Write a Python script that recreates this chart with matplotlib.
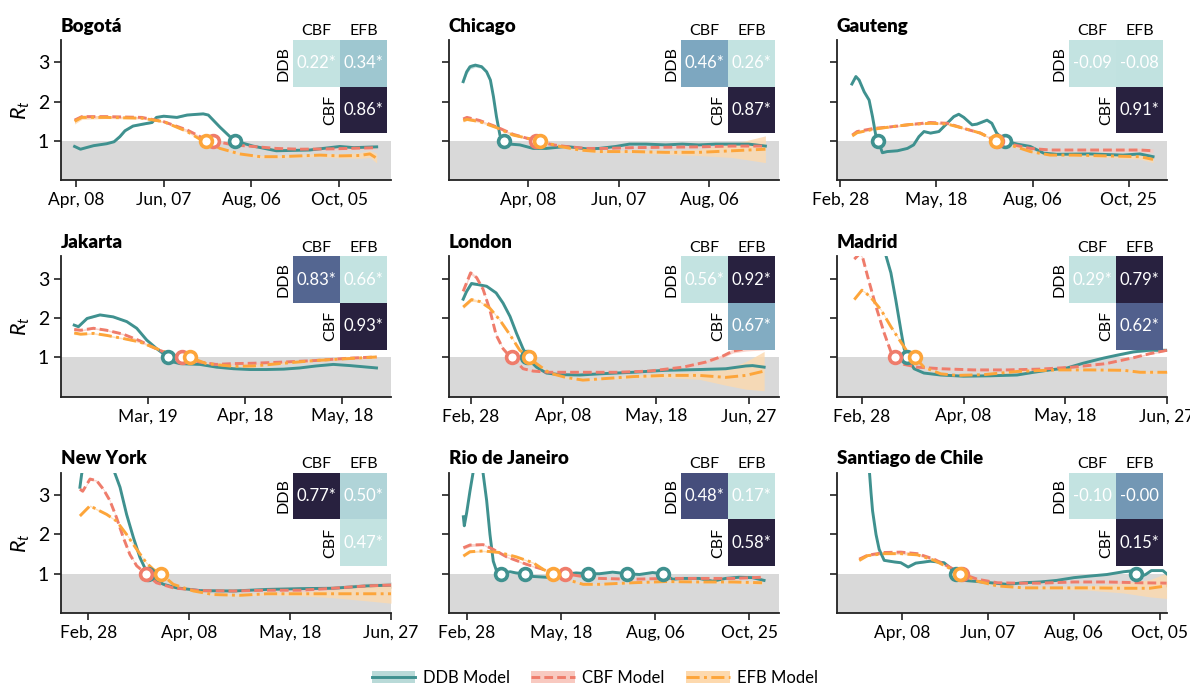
import numpy as np
import matplotlib
matplotlib.use("Agg")
import matplotlib.pyplot as plt
import matplotlib.dates as mdates
from matplotlib.colors import LinearSegmentedColormap, Normalize
from matplotlib.patches import Patch
from matplotlib.lines import Line2D

plt.rcParams['font.family'] = ['Lato', 'DejaVu Sans']
plt.rcParams['mathtext.fontset'] = 'custom'
plt.rcParams['mathtext.it'] = 'Lato:italic'
plt.rcParams['mathtext.rm'] = 'Lato'

# points are (day since the city's reference date, Rt, half width of band)
# band half width defaults to 0.02 when left out

# --- Bogota (ref Apr 08) ---
bogota_ddb = [(-1, 0.86), (3, 0.79), (12, 0.88), (21, 0.93), (26, 0.98), (30, 1.11), (33.5, 1.26),
              (39, 1.38), (46, 1.43), (52, 1.47), (55, 1.6), (60, 1.63), (69, 1.6), (76, 1.66),
              (87, 1.69), (90.5, 1.66), (98.5, 1.35), (105, 1.12), (108.8, 1.0), (121, 0.87),
              (137, 0.75), (160, 0.77), (180.5, 0.86), (190, 0.83), (205.7, 0.85, 0.03)]
bogota_cbf = [(-1, 1.53, 0.05), (4, 1.62, 0.04), (20, 1.62), (45, 1.6), (60, 1.49), (76, 1.28),
              (87, 1.07), (94, 1.0), (107.6, 0.9), (121, 0.86), (137, 0.81), (153, 0.79),
              (176, 0.8, 0.03), (205.7, 0.83, 0.04)]
bogota_efb = [(-1, 1.5, 0.07), (4, 1.6, 0.05), (20, 1.6, 0.03), (45, 1.58), (60, 1.49), (76, 1.24),
              (85, 1.04), (89, 1.0), (98.5, 0.81), (112, 0.67, 0.03), (126, 0.6, 0.03),
              (139.5, 0.6, 0.03), (153, 0.62, 0.03), (167, 0.64, 0.04), (180.5, 0.62, 0.05),
              (194, 0.63, 0.07), (201, 0.67, 0.09), (205.7, 0.56, 0.12)]
bogota_marks = [[108.8], [94], [89]]
bogota_corr = [0.22, 0.34, 0.86]
bogota_sig = [True, True, True]

# --- Chicago (ref Apr 08) ---
chicago_ddb = [(-43, 2.51, 0.04), (-40.7, 2.76, 0.06), (-38.5, 2.89, 0.06), (-35, 2.93, 0.05),
               (-30.8, 2.89, 0.04), (-27.5, 2.76, 0.03), (-25, 2.55, 0.03), (-23, 2.13), (-21, 1.62),
               (-18.7, 1.15), (-16.5, 1.0), (-12, 0.92), (-5.5, 0.9), (3.3, 0.81), (12, 0.81),
               (25, 0.86), (38.5, 0.8), (47, 0.81), (58, 0.86), (67, 0.92), (78, 0.92), (91, 0.9),
               (102, 0.92), (113, 0.9), (124, 0.92), (135, 0.92), (146, 0.92, 0.03), (157, 0.87, 0.03)]
chicago_cbf = [(-43, 1.56, 0.03), (-40.5, 1.6, 0.03), (-32, 1.52), (-21, 1.36), (-10, 1.17),
               (5.5, 1.0), (16.5, 0.9), (25, 0.86), (38.5, 0.81), (52, 0.81), (69, 0.83), (91, 0.84),
               (113, 0.85, 0.03), (135, 0.87, 0.03), (157, 0.87, 0.04)]
chicago_efb = [(-43, 1.52, 0.04), (-40.5, 1.55, 0.03), (-32, 1.49), (-21, 1.34), (-10, 1.15),
               (7.7, 1.0), (21, 0.86), (34, 0.77, 0.03), (47, 0.73, 0.03), (69, 0.73, 0.03),
               (91, 0.71, 0.05), (113, 0.71, 0.08), (135, 0.75, 0.17), (157, 0.79, 0.34)]
chicago_marks = [[-16], [5.5], [8]]
chicago_corr = [0.46, 0.26, 0.87]
chicago_sig = [True, True, True]

# --- Gauteng (ref Feb 28) ---
gauteng_ddb = [(9.7, 2.45), (13, 2.64), (15.7, 2.55), (19.9, 2.25), (24, 2.04), (26.8, 1.62),
               (29.5, 1.15), (31.7, 1.0), (35, 0.7), (39, 0.73), (47.5, 0.75), (55.8, 0.81),
               (61, 0.9), (65.4, 1.11), (69.6, 1.24), (75, 1.2), (82, 1.24), (87.5, 1.41),
               (94.4, 1.62), (98.5, 1.68), (102.7, 1.6), (109.6, 1.41), (113.7, 1.43), (122, 1.53),
               (126, 1.45), (130, 1.2), (137, 1.0), (147, 0.92), (158, 0.86), (169, 0.69),
               (180, 0.66), (207.6, 0.67), (235, 0.64), (249, 0.67), (260, 0.6)]
gauteng_cbf = [(10, 1.15, 0.03), (14, 1.24), (28, 1.32), (42, 1.36), (58.5, 1.42), (75, 1.47),
               (89, 1.45), (102.7, 1.32), (116.5, 1.2), (124.8, 1.07), (130.3, 1.0), (141, 0.92),
               (158, 0.81), (174.5, 0.77), (194, 0.77), (221, 0.77, 0.03), (249, 0.77, 0.04),
               (260, 0.75, 0.05)]
gauteng_efb = [(10, 1.13, 0.03), (14, 1.21), (28, 1.3), (42, 1.36), (58.5, 1.42), (75, 1.45),
               (89, 1.43), (102.7, 1.32), (116.5, 1.2), (124.8, 1.07), (129.5, 1.0), (141, 0.9),
               (158, 0.73), (174.5, 0.64), (194, 0.64, 0.03), (221, 0.62, 0.04), (249, 0.6, 0.06),
               (260, 0.53, 0.08)]
gauteng_marks = [[31.7, 137], [130.3], [129.5]]
gauteng_corr = [-0.09, -0.08, 0.91]
gauteng_sig = [False, False, True]

# --- Jakarta (ref Mar 19) ---
jakarta_ddb = [(-23, 1.82), (-21.7, 1.78), (-19, 1.99), (-15, 2.08), (-10.9, 2.03), (-6.7, 1.91),
               (-3.6, 1.74), (-0.5, 1.44), (2.6, 1.22), (4.7, 1.09), (6.2, 1.0), (7.8, 0.88),
               (9.8, 0.84), (16, 0.82), (21.2, 0.75), (26.4, 0.71), (31.5, 0.69), (36.7, 0.69),
               (42, 0.7), (47, 0.73), (52, 0.78), (57.4, 0.82), (62.6, 0.79), (70.8, 0.73)]
jakarta_cbf = [(-23, 1.71, 0.04), (-21, 1.69), (-17, 1.74), (-13, 1.69), (-7.8, 1.59), (-2.6, 1.42),
               (2.6, 1.21), (6, 1.1), (10.6, 1.0), (16, 0.88), (21, 0.82), (26, 0.84), (32.6, 0.85),
               (42, 0.88), (52, 0.92), (62.6, 0.98), (70.8, 1.01, 0.03)]
jakarta_efb = [(-23, 1.62, 0.04), (-21, 1.59), (-17, 1.61), (-13, 1.56), (-7.8, 1.48), (-2.6, 1.39),
               (2.6, 1.22), (7.8, 1.05), (12.9, 1.0), (18, 0.84), (26.4, 0.77), (32.6, 0.78),
               (42, 0.85), (52, 0.92), (62.6, 0.97), (70.8, 1.01, 0.03)]
jakarta_marks = [[6.2], [10.6], [12.9]]
jakarta_corr = [0.83, 0.66, 0.93]
jakarta_sig = [True, True, True]

# --- London (ref Feb 28) ---
london_ddb = [(-3.2, 2.48, 0.04), (-1.7, 2.68, 0.04), (0.4, 2.88, 0.04), (3.3, 2.85), (6.9, 2.81),
              (11, 2.64), (14, 2.38), (17, 2.04), (19.8, 1.61), (22.6, 1.22), (25.5, 0.92),
              (28.4, 0.75), (32.7, 0.6), (38.4, 0.56), (47, 0.55), (55.6, 0.58), (70, 0.62),
              (84, 0.67), (98.6, 0.69), (110, 0.71, 0.03), (118.6, 0.78, 0.04), (121.5, 0.79, 0.04),
              (126.5, 0.75, 0.05)]
london_cbf = [(-3.2, 2.68, 0.05), (0, 3.15, 0.05), (2.6, 3.03), (5.4, 2.73), (8.3, 2.21), (11, 1.57),
              (14, 1.22), (16.2, 1.07), (18, 1.0), (22.6, 0.71), (27, 0.65), (34, 0.62),
              (48.4, 0.62), (62.8, 0.62), (77, 0.65), (91.5, 0.75), (101.4, 0.88, 0.03),
              (108.6, 1.03, 0.04), (113, 1.16, 0.05), (118.6, 1.22, 0.06), (126.5, 1.27, 0.08)]
london_efb = [(-3.2, 2.28, 0.04), (0.4, 2.47, 0.04), (4, 2.42), (8.3, 2.25), (12.6, 1.95),
              (17, 1.57), (21.2, 1.18), (25.2, 1.0), (28.4, 0.84), (34, 0.6), (41, 0.49),
              (48.4, 0.42), (55.6, 0.45), (70, 0.51, 0.03), (84, 0.54, 0.05), (98.6, 0.54, 0.1),
              (110, 0.49, 0.2), (118.6, 0.54, 0.35), (126.5, 0.65, 0.5)]
london_marks = [[24.5], [18], [25.2]]
london_corr = [0.56, 0.92, 0.67]
london_sig = [True, True, True]

# --- Madrid (ref Feb 28) ---
madrid_ddb = [(0, 5.5), (5, 4.8), (9.4, 3.6), (11.4, 3.15), (13.3, 2.47), (15.3, 1.7), (16.6, 1.22),
              (17.9, 1.0), (20.5, 0.71), (24.4, 0.6), (31, 0.55), (40, 0.52), (50.6, 0.53),
              (61, 0.55), (67.6, 0.62), (74, 0.68), (80.7, 0.73), (87, 0.85), (95, 0.98),
              (100, 1.05, 0.03), (106.8, 1.14, 0.03), (113, 1.18, 0.03), (120, 1.18, 0.03)]
madrid_cbf = [(-3, 3.5), (-1, 3.63), (0.3, 3.54), (2.2, 3.07), (5.5, 2.3), (8.8, 1.61), (11.4, 1.14),
              (13, 1.0), (16.6, 0.82), (21.8, 0.75), (31, 0.71), (44, 0.68), (57, 0.68), (70, 0.7),
              (83, 0.75), (96, 0.84), (106.8, 0.99), (113, 1.09), (120, 1.18)]
madrid_efb = [(-3, 2.47), (0, 2.71), (1.6, 2.64), (4.2, 2.47), (7.5, 2.21), (11.4, 1.78),
              (15.3, 1.39), (17.9, 1.14), (20.8, 1.0), (24.4, 0.75), (31, 0.58), (37.5, 0.54),
              (48, 0.56), (61, 0.64), (76.7, 0.68), (89.8, 0.68), (103, 0.67), (109.4, 0.62, 0.03),
              (120, 0.62, 0.03)]
madrid_marks = [[17.9], [13], [20.8]]
madrid_corr = [0.29, 0.79, 0.62]
madrid_sig = [True, True, True]

# --- New York (ref Feb 28) ---
newyork_ddb = [(-3.3, 3.2), (-2.6, 3.54), (-1, 4.0), (3, 4.4), (7, 4.2), (10.6, 3.55), (12.6, 3.2),
               (15.2, 2.51), (17.9, 1.92), (20.5, 1.41), (23, 1.07), (25.8, 0.88), (29.8, 0.73),
               (35, 0.64), (44.3, 0.57), (57.5, 0.56), (70.8, 0.6), (84, 0.62, 0.03),
               (97, 0.63, 0.05), (110.4, 0.69, 0.07), (120, 0.71, 0.08)]
newyork_cbf = [(-3.3, 3.15), (-2.2, 3.1), (0.7, 3.41), (3.3, 3.37), (6, 3.15), (8.6, 2.86),
               (11.2, 2.43), (13.9, 1.92), (16.5, 1.49), (19.2, 1.2), (22.9, 1.0), (27, 0.77),
               (33.7, 0.64), (44.3, 0.57), (57.5, 0.56), (70.8, 0.58), (84, 0.58, 0.03),
               (97, 0.63, 0.05), (110.4, 0.69, 0.06), (120, 0.71, 0.07)]
newyork_efb = [(-3.3, 2.47), (-1.3, 2.6), (0.7, 2.73), (3.3, 2.64), (7.3, 2.51), (11.2, 2.34),
               (15.2, 2.0), (19.2, 1.62), (23, 1.28), (25.8, 1.11), (28.8, 1.0), (33.7, 0.73),
               (41.7, 0.56), (49.6, 0.47), (60, 0.45), (70.8, 0.49, 0.03), (84, 0.49, 0.05),
               (97, 0.49, 0.1), (110.4, 0.49, 0.18), (120, 0.49, 0.24)]
newyork_marks = [[23.5], [22.9], [28.8]]
newyork_corr = [0.77, 0.50, 0.47]
newyork_sig = [True, True, True]

# --- Rio de Janeiro (ref Feb 28) ---
rio_ddb = [(-2.8, 2.45), (-2, 2.22), (0, 2.55), (2.8, 3.1), (5.6, 3.6), (8, 4.5), (11, 4.6),
           (14, 3.55), (17, 2.86), (19.8, 2.0), (22.6, 1.32), (25.4, 1.07), (29, 1.0), (33, 1.03),
           (37, 1.05), (42, 1.02), (49.7, 1.0), (56.5, 0.93), (67.8, 0.91), (76, 0.97),
           (84.7, 0.99), (93, 1.02), (103, 1.0), (113, 1.0), (124, 1.04), (136.6, 1.0),
           (146.8, 0.98), (158, 1.03), (166.6, 1.0), (175, 0.86), (183.5, 0.88), (197.6, 0.88),
           (209, 0.81), (220, 0.88), (231.5, 0.91), (242.8, 0.9), (252.7, 0.83)]
rio_cbf = [(-2.8, 1.66, 0.04), (2.8, 1.73, 0.04), (14, 1.74), (22.6, 1.62), (33.9, 1.43),
           (50.8, 1.24), (65, 1.11), (76, 1.05), (83.8, 1.0), (96, 0.94), (113, 0.88), (141, 0.86),
           (169, 0.88), (197.6, 0.88), (226, 0.88, 0.03), (251, 0.91, 0.03)]
rio_efb = [(-2.8, 1.45, 0.03), (2.8, 1.56, 0.03), (14, 1.58), (28, 1.54), (42, 1.43), (56.5, 1.28),
           (65, 1.11), (73.4, 1.0), (82, 0.9), (90, 0.81), (99, 0.73), (113, 0.73), (141, 0.77),
           (169, 0.8), (197.6, 0.79), (226, 0.79, 0.03), (251, 0.77, 0.04)]
rio_marks = [[29, 49.7, 103, 136.6, 166.6], [83.8], [73.4]]
rio_corr = [0.48, 0.17, 0.58]
rio_sig = [True, True, True]

# --- Santiago de Chile (ref Apr 08) ---
santiago_ddb = [(-26, 5.0), (-23, 3.8), (-21.5, 3.07), (-20.4, 2.6), (-18, 2.0), (-15.8, 1.62),
                (-12.3, 1.34), (-5.3, 1.3), (-0.7, 1.28), (4.4, 1.17), (9.7, 1.27), (20, 1.32),
                (29.4, 1.28), (36.4, 1.07), (37.5, 1.0), (43, 0.83), (50, 0.81), (61.8, 0.77),
                (73.4, 0.73), (85, 0.77), (96.6, 0.79), (108, 0.83), (120, 0.9), (131, 0.94),
                (143, 0.98), (154.5, 1.05), (160, 1.07), (163, 1.02), (166, 0.92), (170, 0.98),
                (174, 1.08), (182, 1.08), (184.6, 1.0)]
santiago_cbf = [(-29.7, 1.37, 0.03), (-23.9, 1.47), (-12.3, 1.54), (-0.7, 1.55), (10.9, 1.51),
                (22.5, 1.37), (31.7, 1.2), (42, 1.0), (52.6, 0.86), (66.5, 0.77), (80.4, 0.76),
                (96.6, 0.76), (120, 0.79), (143, 0.79, 0.03), (166, 0.77, 0.04), (184.6, 0.76, 0.05)]
santiago_efb = [(-29.7, 1.34, 0.03), (-23.9, 1.46), (-12.3, 1.51), (-0.7, 1.51), (10.9, 1.48),
                (22.5, 1.34), (31.7, 1.17), (40.5, 1.0), (52.6, 0.81), (66.5, 0.69), (85, 0.64),
                (108, 0.64, 0.03), (131, 0.64, 0.06), (154.5, 0.63, 0.12), (173, 0.63, 0.22),
                (184.6, 0.69, 0.32)]
santiago_marks = [[37.5, 163], [42], [40.5]]
santiago_corr = [-0.10, -0.0, 0.15]
santiago_sig = [False, False, True]

cities = ["Bogotá", "Chicago", "Gauteng", "Jakarta", "London", "Madrid",
          "New York", "Rio de Janeiro", "Santiago de Chile"]
ref_dates = ["2020-04-08", "2020-04-08", "2020-02-28", "2020-03-19", "2020-02-28",
             "2020-02-28", "2020-02-28", "2020-02-28", "2020-04-08"]
tick_days = [[0, 60, 120, 180], [0, 60, 120], [0, 80, 160, 240], [0, 30, 60], [0, 40, 80, 120],
             [0, 40, 80, 120], [0, 40, 80, 120], [0, 80, 160, 240], [0, 60, 120, 180]]
ddb_all = [bogota_ddb, chicago_ddb, gauteng_ddb, jakarta_ddb, london_ddb, madrid_ddb,
           newyork_ddb, rio_ddb, santiago_ddb]
cbf_all = [bogota_cbf, chicago_cbf, gauteng_cbf, jakarta_cbf, london_cbf, madrid_cbf,
           newyork_cbf, rio_cbf, santiago_cbf]
efb_all = [bogota_efb, chicago_efb, gauteng_efb, jakarta_efb, london_efb, madrid_efb,
           newyork_efb, rio_efb, santiago_efb]
marks_all = [bogota_marks, chicago_marks, gauteng_marks, jakarta_marks, london_marks,
             madrid_marks, newyork_marks, rio_marks, santiago_marks]
corr_all = [bogota_corr, chicago_corr, gauteng_corr, jakarta_corr, london_corr, madrid_corr,
            newyork_corr, rio_corr, santiago_corr]
sig_all = [bogota_sig, chicago_sig, gauteng_sig, jakarta_sig, london_sig, madrid_sig,
           newyork_sig, rio_sig, santiago_sig]

# view window in days around each reference date (layout only)
xlims = [(-10.3, 215.5), (-52.4, 166), (-2.7, 271.6), (-27.1, 75.3), (-9.3, 132.9),
         (-9.8, 120), (-10.8, 120), (-15, 265.4), (-45.2, 184.9)]

models = ["DDB", "CBF", "EFB"]
colors = ["#3f918f", "#ef7c6b", "#fda53a"]
band_colors = ["#b9dad8", "#f8c9c0", "#fdd9ae"]
styles = ["-", (0, (3, 1.4)), (0, (4.5, 1.5, 1, 1.5))]

cmap = LinearSegmentedColormap.from_list(
    "corr", [(0, "#c3e3e1"), (0.2, "#9cc5cf"), (0.33, "#7ca6bf"), (0.65, "#52628e"),
             (0.77, "#454b7a"), (1, "#28213f")])


def unpack(pts):
    d = np.array([p[0] for p in pts], dtype=float)
    r = np.array([p[1] for p in pts], dtype=float)
    h = np.array([p[2] if len(p) > 2 else 0.02 for p in pts], dtype=float)
    return d, r, h


fig, axes = plt.subplots(3, 3, figsize=(11.9, 6.86), dpi=100)
fig.subplots_adjust(left=61 / 1190, right=1167 / 1190, top=1 - 40 / 686, bottom=1 - 613 / 686,
                    wspace=58 / 330, hspace=76 / 140)

for i, ax in enumerate(axes.flat):
    x0 = mdates.datestr2num(ref_dates[i])
    ax.axhspan(0, 1, color="#d9d9d9", lw=0, zorder=0)

    series = [ddb_all[i], cbf_all[i], efb_all[i]]
    for k in range(3):
        d, r, h = unpack(series[k])
        ax.fill_between(x0 + d, r - h, r + h, color=band_colors[k], alpha=0.8, lw=0, zorder=1 + k)
        ax.plot(x0 + d, r, color=colors[k], ls=styles[k], lw=2.1, zorder=4 + k)
    for k in range(3):
        md = np.array(marks_all[i][k], dtype=float)
        ax.plot(x0 + md, np.ones_like(md), 'o', ms=8.5, mfc="white", mec=colors[k], mew=2.6,
                zorder=8 + k)

    ax.set_ylim(0, 3.57)
    ax.set_xlim(x0 + xlims[i][0], x0 + xlims[i][1])
    ax.set_yticks([1, 2, 3])
    ax.set_xticks(x0 + np.array(tick_days[i]))
    ax.xaxis.set_major_formatter(mdates.DateFormatter("%b, %d"))
    ax.tick_params(labelsize=12.5, length=5, width=1.2, color="#222222")
    ax.tick_params(axis="y", labelsize=14)
    for s in ["top", "right"]:
        ax.spines[s].set_visible(False)
    for s in ["left", "bottom"]:
        ax.spines[s].set_linewidth(1.3)
        ax.spines[s].set_color("#222222")
    if i % 3 == 0:
        ax.set_ylabel("$R_t$", fontsize=15.5)
    else:
        ax.tick_params(labelleft=False)
    ax.set_title(cities[i], loc="left", fontweight="heavy", fontsize=13.5, pad=6)

    # correlation inset
    vals = corr_all[i]
    ins = ax.inset_axes([0.703, 0.336, 0.285, 0.664])
    grid = np.ma.masked_array([[vals[0], vals[1]], [0, vals[2]]], mask=[[0, 0], [1, 0]])
    ins.pcolormesh(grid, cmap=cmap, norm=Normalize(min(vals), max(vals)))
    ins.set_xlim(0, 2)
    ins.set_ylim(2, 0)
    ins.axis("off")
    cells = [(0, 0), (0, 1), (1, 1)]
    for (r_, c_), v, s in zip(cells, vals, sig_all[i]):
        ins.text(c_ + 0.5, r_ + 0.5, f"{v:.2f}" + ("*" if s else ""), color="white",
                 ha="center", va="center", fontsize=12)
    ins.text(0.5, -0.04, "CBF", ha="center", va="bottom", fontsize=11.5)
    ins.text(1.5, -0.04, "EFB", ha="center", va="bottom", fontsize=11.5)
    ins.text(-0.06, 0.5, "DDB", ha="right", va="center", rotation=90, fontsize=11.5)
    ins.text(0.94, 1.5, "CBF", ha="right", va="center", rotation=90, fontsize=11.5)

handles = []
for k in range(3):
    handles.append((Patch(facecolor=band_colors[k], edgecolor="none"),
                    Line2D([], [], color=colors[k], ls=styles[k], lw=2.1)))
fig.legend(handles, [m + " Model" for m in models], loc="center",
           bbox_to_anchor=(0.5, 1 - 678 / 686), ncol=3, frameon=False, fontsize=12,
           handlelength=2.6, handletextpad=0.45, columnspacing=1.3)

fig.savefig("out.png", dpi=100)
